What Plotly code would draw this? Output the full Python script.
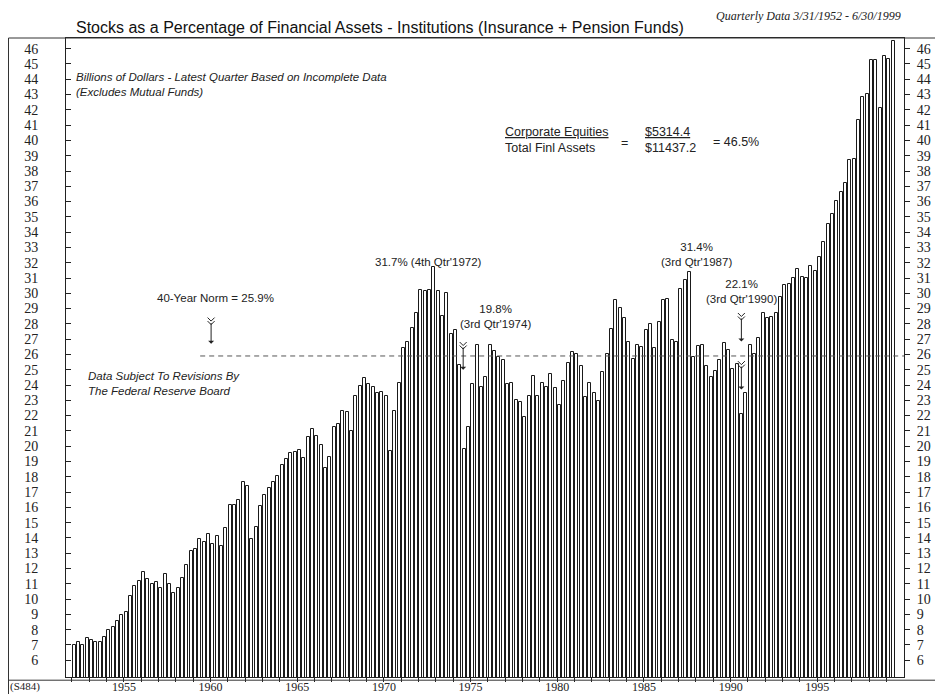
import plotly.graph_objects as go

# ---------------- data ----------------
START_YEAR = 1952
stock_pct = [
    7.02, 7.2, 6.98, 7.48, 7.3, 7.2, 7.2, 7.5, 7.98, 8.2, 8.57, 8.98, 9.18, 10.18, 10.85, 11.2,
    11.8, 11.3, 11.0, 11.1, 10.7, 11.65, 10.96, 10.4, 10.75, 11.4, 12.25, 13.13, 13.3, 13.9,
    13.7, 14.25, 13.57, 14.1, 13.45,
    14.66, 16.16, 16.16, 16.5, 17.63, 17.37, 13.94, 14.7, 16.1, 16.8, 17.29, 17.68, 18.07, 18.77,
    19.16, 19.53, 19.62, 19.77, 19.23, 20.57, 21.12, 20.68, 20.1, 18.58, 19.31, 21.27, 21.45,
    22.31, 22.23, 21.0, 23.31, 23.96, 24.49,
    24.05, 23.9, 23.5, 23.55, 23.25, 19.66, 22.31, 24.11, 26.44, 26.83, 27.7, 28.73, 30.19, 30.14,
    30.19, 31.7, 30.14, 28.51, 30.03, 27.31, 27.57, 25.3, 19.8, 21.23, 24.05, 26.6, 23.88, 24.55,
    26.6, 26.23, 25.84, 25.66, 24.05, 24.1,
    23.03, 22.9, 21.94, 23.27, 24.6, 23.29, 24.12, 23.88, 24.71, 23.79, 22.68, 24.25, 25.43, 26.16,
    26.01, 25.23, 23.2, 24.16, 23.47, 22.95, 24.84, 26.06, 27.69, 29.56, 29.06, 28.37, 26.82,
    25.69, 26.6, 26.49, 27.58, 27.97, 26.4, 28.14, 29.54,
    29.6, 26.93, 26.82, 30.3, 30.84, 31.4, 25.84, 26.54, 26.6, 25.25, 24.53, 24.92, 25.64, 26.77,
    26.27, 25.03, 25.4, 22.1,
    23.47, 26.62, 26.01, 27.06, 28.69, 28.4, 28.45, 28.73, 29.74, 30.53, 30.6, 30.98, 31.6, 31.08,
    30.97,
    31.77, 31.45, 32.36, 33.34, 34.56, 35.21, 36.06, 36.6, 37.21, 38.69, 38.8, 41.34, 42.87, 43.04,
    45.26, 45.26, 42.11, 45.52, 45.33, 46.5,
]
label_years = [1955, 1960, 1965, 1970, 1975, 1980, 1985, 1990, 1995]
y_ticks = list(range(6, 47))
norm_value = 25.9
norm_start_year = 1959.4

callouts = [
    # (x year, y value, text)
    (1972.55, 32.05, "31.7% (4th Qtr'1972)"),
    (1976.45, 28.5, "19.8%<br>(3rd Qtr'1974)"),
    (1988.05, 32.55, "31.4%<br>(3rd Qtr'1987)"),
    (1990.65, 30.15, "22.1%<br>(3rd Qtr'1990)"),
    (1960.3, 29.7, "40-Year Norm = 25.9%"),
]
arrows = [
    # (x year, tail value, head value)
    (1960.03, 28.15, 26.7),
    (1974.57, 26.55, 25.0),
    (1990.62, 28.45, 26.85),
    (1990.62, 25.3, 23.7),
]

# ---------------- figure ----------------
quarter_x = [START_YEAR + 0.125 + i / 4 for i in range(len(stock_pct))]
all_years = list(range(1952, 2000))
year_text = [str(y) if y in label_years else "" for y in all_years]

X_RANGE = [1951.66, 2000.0]
Y_RANGE = [4.9, 46.7]

SERIF = "Liberation Serif, Times New Roman, serif"
SANS = "Liberation Sans, Arial, Helvetica, sans-serif"

fig = go.Figure()
fig.add_trace(go.Bar(
    x=quarter_x, y=stock_pct, width=0.17,
    marker=dict(color="white", line=dict(color="#1a1a1a", width=1)),
    showlegend=False, hoverinfo="x+y",
))
fig.add_trace(go.Scatter(
    x=quarter_x, y=stock_pct, yaxis="y2", mode="markers",
    marker=dict(opacity=0), showlegend=False, hoverinfo="skip",
))

fig.update_layout(
    width=943, height=694,
    margin=dict(l=58, r=47, t=30, b=25, autoexpand=False),
    paper_bgcolor="white", plot_bgcolor="white",
    xaxis=dict(
        range=X_RANGE, tickmode="array", tickvals=all_years, ticktext=year_text,
        ticks="outside", ticklen=4, tickcolor="#222", tickwidth=1,
        showline=True, linecolor="#222", linewidth=1, mirror=True,
        showgrid=False, zeroline=False, automargin=False, ticklabelstandoff=-5,
        tickfont=dict(family=SERIF, size=12, color="#222"),
    ),
    yaxis=dict(
        range=Y_RANGE, tickmode="array", tickvals=y_ticks,
        ticks="inside", ticklen=5, tickcolor="#222",
        showline=True, linecolor="#222", linewidth=1,
        showgrid=False, zeroline=False, ticklabelstandoff=24, automargin=False,
        tickfont=dict(family=SERIF, size=14, color="#222"),
    ),
    yaxis2=dict(
        range=Y_RANGE, tickmode="array", tickvals=y_ticks, overlaying="y", side="right",
        ticks="outside", ticklen=5, tickcolor="#222",
        showline=True, linecolor="#222", linewidth=1,
        showgrid=False, zeroline=False, ticklabelstandoff=4, automargin=False,
        tickfont=dict(family=SERIF, size=14, color="#222"),
    ),
    bargap=0,
)

# 40-year norm dashed line
fig.add_shape(type="line", xref="x", yref="y", x0=norm_start_year, x1=X_RANGE[1],
              y0=norm_value, y1=norm_value,
              line=dict(color="#555", width=1, dash="5px,4px"))

# frame lines
frame = dict(color="#333", width=1)
fig.add_shape(type="line", xref="paper", yref="paper", x0=-0.0686, x1=1.06, y0=1, y1=1, line=frame)
fig.add_shape(type="line", xref="paper", yref="paper", x0=-0.0686, x1=-0.0686, y0=1, y1=-0.04, line=frame)
fig.add_shape(type="line", xref="paper", yref="paper", x0=-0.07, x1=1.06, y0=-0.005, y1=-0.005, line=frame)

# callout texts
for cx, cy, ctext in callouts:
    fig.add_annotation(x=cx, y=cy, xref="x", yref="y", text=ctext, showarrow=False,
                       font=dict(family=SANS, size=11.5, color="#222"), align="center")

# fletched arrows
for axp, tail, head in arrows:
    fig.add_annotation(x=axp, y=head, ax=axp, ay=tail, xref="x", yref="y", axref="x", ayref="y",
                       text="", showarrow=True, arrowhead=1, arrowsize=1, arrowwidth=1,
                       arrowcolor="#222")
    fig.add_shape(type="path", xref="x", yref="y", xsizemode="pixel", ysizemode="pixel",
                  xanchor=axp, yanchor=tail,
                  path="M -3.5,4 L 0,0.5 L 3.5,4 M -3.5,0.5 L 0,-3 L 3.5,0.5",
                  line=dict(color="#222", width=1))

# title & header
fig.add_annotation(xref="paper", yref="paper", x=0.01, y=1.016, xanchor="left", yanchor="middle",
                   text="Stocks as a Percentage of Financial Assets - Institutions (Insurance + Pension Funds)",
                   showarrow=False, font=dict(family=SANS, size=16, color="#111"))
fig.add_annotation(xref="paper", yref="paper", x=0.999, y=1.035, xanchor="right", yanchor="middle",
                   text="<i>Quarterly Data 3/31/1952 - 6/30/1999</i>",
                   showarrow=False, font=dict(family=SERIF, size=12, color="#222"))
fig.add_annotation(xref="paper", yref="paper", x=-0.069, y=-0.015, xanchor="left", yanchor="middle",
                   text="(S484)", showarrow=False, font=dict(family=SERIF, size=11, color="#222"))

# notes
fig.add_annotation(xref="paper", yref="paper", x=0.010, y=0.928, xanchor="left", yanchor="middle",
                   text="<i>Billions of Dollars - Latest Quarter Based on Incomplete Data<br>(Excludes Mutual Funds)</i>",
                   showarrow=False, align="left", font=dict(family=SANS, size=11.5, color="#222"))
fig.add_annotation(xref="paper", yref="paper", x=0.024, y=0.460, xanchor="left", yanchor="middle",
                   text="<i>Data Subject To Revisions By<br>The Federal Reserve Board</i>",
                   showarrow=False, align="left", font=dict(family=SANS, size=11.5, color="#222"))

# ratio box
ratio_font = dict(family=SANS, size=12.5, color="#222")
fig.add_annotation(xref="paper", yref="paper", x=0.521, y=0.840, xanchor="left", yanchor="middle",
                   text="<u>Corporate Equities</u><br>Total Finl Assets", showarrow=False,
                   align="left", font=ratio_font)
fig.add_annotation(xref="paper", yref="paper", x=0.667, y=0.836, xanchor="center", yanchor="middle",
                   text="=", showarrow=False, font=ratio_font)
fig.add_annotation(xref="paper", yref="paper", x=0.688, y=0.840, xanchor="left", yanchor="middle",
                   text="<u>$5314.4</u><br>$11437.2", showarrow=False, align="left", font=ratio_font)
fig.add_annotation(xref="paper", yref="paper", x=0.770, y=0.838, xanchor="left", yanchor="middle",
                   text="= 46.5%", showarrow=False, font=ratio_font)

fig.write_html("out.html")
